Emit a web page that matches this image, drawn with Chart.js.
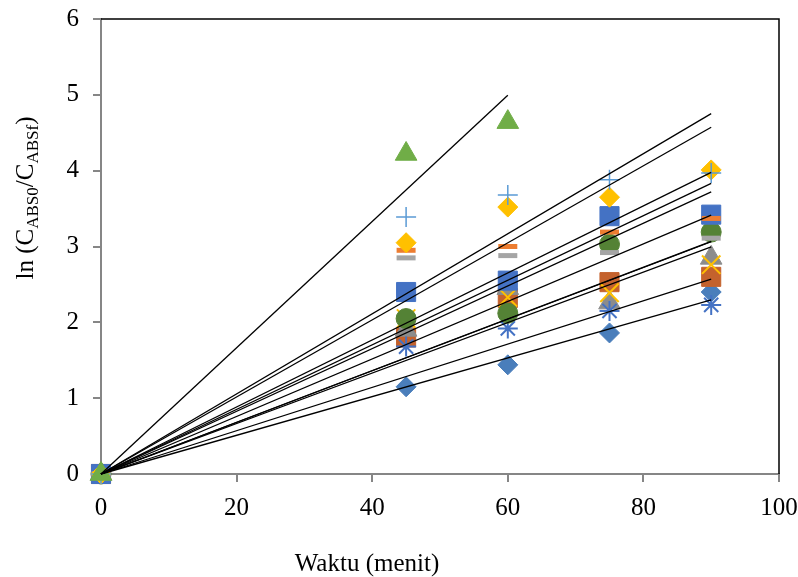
<!DOCTYPE html>
<html>
<head>
<meta charset="utf-8">
<script src="https://cdn.jsdelivr.net/npm/chart.js@4"></script>
<style>
  body { margin: 0; background: #fff; }
  #wadah { width: 798px; height: 577px; }
</style>
</head>
<body>
<div id="wadah"><canvas id="grafik"></canvas></div>
<script>
// Data
const waktu = [0, 45, 60, 75, 90];
const waktuPendek = [0, 45, 60];
const tickX = [0, 20, 40, 60, 80, 100];
const tickY = [0, 1, 2, 3, 4, 5, 6];

const belahKetupatBiru = [0, 1.15, 1.44, 1.86, 2.40];
const kotakOranye = [0, 1.80, 2.32, 2.53, 2.60];
const segitigaAbu = [0, 1.90, 2.45, 2.26, 2.85];
const silangKuning = [0, 2.05, 2.33, 2.39, 2.76];
const bintangBiru = [0, 1.68, 1.92, 2.15, 2.23];
const lingkaranHijau = [0, 2.05, 2.12, 3.03, 3.19];
const kotakBiru = [0, 2.40, 2.55, 3.40, 3.42];
const stripOranye = [0, 2.95, 3.00, 3.19, 3.37];
const stripAbu = [0, 2.85, 2.88, 2.92, 3.11];
const belahKetupatKuning = [0, 3.05, 3.52, 3.65, 4.01];
const tambahBiru = [0, 3.39, 3.68, 3.88, 3.97];
const segitigaHijau = [0, 4.22, 4.64];

const FONT = '"Liberation Serif", "Times New Roman", serif';

// seri: [nilai, x, warna, bentuk, radius, tebal garis]
const seri = [
  [belahKetupatBiru, waktu, '#4A7EBB', 'rectRot', 10, 1],
  [kotakOranye, waktu, '#C4622D', 'rect', 13.5, 1],
  [segitigaAbu, waktu, '#8C8C8C', 'triangle', 12.5, 1],
  [silangKuning, waktu, '#FFC000', 'crossRot', 13, 2],
  [bintangBiru, waktu, '#4472C4', 'star', 10, 2],
  [lingkaranHijau, waktu, '#548235', 'circle', 10, 1],
  [kotakBiru, waktu, '#4472C4', 'rect', 13.5, 1],
  [stripOranye, waktu, '#ED7D31', 'line', 9.5, 5],
  [stripAbu, waktu, '#A5A5A5', 'line', 9.5, 5],
  [belahKetupatKuning, waktu, '#FFC000', 'rectRot', 10, 1],
  [tambahBiru, waktu, '#5B9BD5', 'cross', 10, 1.5],
  [segitigaHijau, waktuPendek, '#70AD47', 'triangle', 12.5, 1]
];

// regresi linier lewat titik nol (seperti trendline Excel)
function kemiringan(xs, ys) {
  let sxy = 0, sxx = 0;
  for (let i = 0; i < xs.length; i++) {
    sxy += xs[i] * ys[i];
    sxx += xs[i] * xs[i];
  }
  return sxy / sxx;
}

const datasets = [];
seri.forEach((s, i) => {
  const [nilai, xs, warna, bentuk, r, tebal] = s;
  datasets.push({
    data: xs.map((x, j) => ({ x: x, y: nilai[j] })),
    pointStyle: bentuk,
    pointRadius: r,
    pointHoverRadius: r,
    pointBackgroundColor: warna,
    pointBorderColor: warna,
    pointBorderWidth: tebal,
    showLine: false,
    clip: false,
    order: 50 - i
  });
  const m = kemiringan(xs, nilai);
  const xAkhir = xs[xs.length - 1];
  datasets.push({
    data: [{ x: 0, y: 0 }, { x: xAkhir, y: m * xAkhir }],
    showLine: true,
    borderColor: '#000',
    borderWidth: 1.3,
    pointRadius: 0,
    clip: false,
    order: 1
  });
});

const pluginJudul = {
  id: 'pluginJudul',
  beforeDatasetsDraw(chart) {
    const ctx = chart.ctx;
    const a = chart.chartArea;
    ctx.save();
    ctx.strokeStyle = '#000';
    ctx.lineWidth = 1.5;
    ctx.beginPath();
    ctx.moveTo(a.left, a.top);
    ctx.lineTo(a.right, a.top);
    ctx.lineTo(a.right, a.bottom);
    ctx.stroke();
    ctx.restore();
  },
  afterDraw(chart) {
    const ctx = chart.ctx;
    ctx.save();
    ctx.fillStyle = '#000';
    ctx.textBaseline = 'alphabetic';
    ctx.font = '25px ' + FONT;
    ctx.textAlign = 'center';
    ctx.fillText('Waktu (menit)', 367, 571);

    // judul sumbu y dengan subskrip
    const bagian = [
      ['ln (C', 25, 0],
      ['ABS0', 17, 5],
      ['/C', 25, 0],
      ['ABSf', 17, 5],
      [')', 25, 0]
    ];
    let total = 0;
    bagian.forEach(b => {
      ctx.font = b[1] + 'px ' + FONT;
      total += ctx.measureText(b[0]).width;
    });
    ctx.translate(33, 198);
    ctx.rotate(-Math.PI / 2);
    ctx.textAlign = 'left';
    let x = -total / 2;
    bagian.forEach(b => {
      ctx.font = b[1] + 'px ' + FONT;
      ctx.fillText(b[0], x, b[2]);
      x += ctx.measureText(b[0]).width;
    });
    ctx.restore();
  }
};

const sumbu = {
  grid: { drawOnChartArea: false, drawTicks: true, tickLength: 8, color: '#868686', lineWidth: 2 },
  border: { display: true, color: '#868686', width: 2 }
};

function tanpaPadding(s) {
  s.paddingTop = 0;
  s.paddingBottom = 0;
  s.paddingLeft = 0;
  s.paddingRight = 0;
}

new Chart(document.getElementById('grafik'), {
  type: 'scatter',
  data: { datasets: datasets },
  options: {
    responsive: true,
    maintainAspectRatio: false,
    animation: false,
    layout: { padding: { top: 19, right: 19, left: 0, bottom: 0 } },
    plugins: { legend: { display: false }, tooltip: { enabled: false } },
    scales: {
      x: {
        type: 'linear',
        min: tickX[0],
        max: tickX[tickX.length - 1],
        afterBuildTicks: s => { s.ticks = tickX.map(v => ({ value: v })); },
        afterFit: s => { s.height = 103; tanpaPadding(s); },
        ticks: { color: '#000', font: { family: FONT, size: 25 }, padding: 11 },
        grid: sumbu.grid,
        border: sumbu.border
      },
      y: {
        min: tickY[0],
        max: tickY[tickY.length - 1],
        afterBuildTicks: s => { s.ticks = tickY.map(v => ({ value: v })); },
        afterFit: s => { s.width = 101; tanpaPadding(s); },
        ticks: { color: '#000', font: { family: FONT, size: 25 }, padding: 14 },
        grid: sumbu.grid,
        border: sumbu.border
      }
    }
  },
  plugins: [pluginJudul]
});
</script>
</body>
</html>
